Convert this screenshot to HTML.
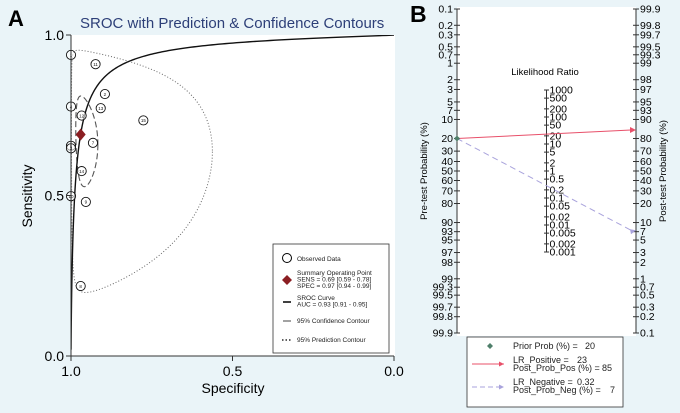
<!DOCTYPE html>
<html><head><meta charset="utf-8">
<style>
body{margin:0;background:#eaf4f8;}
svg{display:block;font-family:"Liberation Sans",Arial,sans-serif;}
</style></head>
<body>
<svg id="chart" width="680" height="413" viewBox="0 0 680 413">
<rect x="0" y="0" width="680" height="413" fill="#eaf4f8"/>
<g id="panelA">
 <text x="8" y="26" font-size="22" font-weight="bold" fill="#000">A</text>
 <text x="80" y="28" font-size="15" fill="#2d3f78">SROC with Prediction &amp; Confidence Contours</text>
 <rect x="71" y="35" width="324" height="321" fill="#fff"/>
 <clipPath id="clipA"><rect x="71" y="35" width="324" height="321"/></clipPath>
 <g id="aMarks" clip-path="url(#clipA)"></g>
 <g id="aPoints"></g>
 <g id="aAxes"></g>
 <text x="233" y="393" font-size="14" text-anchor="middle">Specificity</text>
 <text x="32" y="196" font-size="14" text-anchor="middle" transform="rotate(-90 32 196)">Sensitivity</text>
 <g font-size="6.5" fill="#222">
  <rect x="273" y="244" width="116" height="109" fill="#fff" stroke="#333" stroke-width="0.8"/>
  <circle cx="287" cy="258" r="4.5" fill="none" stroke="#000"/>
  <text x="297" y="261">Observed Data</text>
  <path d="M287 275 l5 5 l-5 5 l-5 -5z" fill="#8b1e22"/>
  <text x="297" y="275">Summary Operating Point</text>
  <text x="297" y="281.5">SENS = 0.69 [0.59 - 0.78]</text>
  <text x="297" y="288">SPEC = 0.97 [0.94 - 0.99]</text>
  <line x1="283" y1="302" x2="291" y2="302" stroke="#000" stroke-width="1.5"/>
  <text x="297" y="300">SROC Curve</text>
  <text x="297" y="306.5">AUC = 0.93 [0.91 - 0.95]</text>
  <line x1="283" y1="321" x2="291" y2="321" stroke="#444" stroke-width="1"/>
  <text x="297" y="323">95% Confidence Contour</text>
  <line x1="282" y1="340" x2="292" y2="340" stroke="#000" stroke-width="1.2" stroke-dasharray="1.5,2"/>
  <text x="297" y="342">95% Prediction Contour</text>
 </g>
</g>
<g id="panelB">
 <rect x="457" y="7" width="179" height="329" fill="#fff"/>
 <text x="410" y="22" font-size="23" font-weight="bold">B</text>
 <g id="bAxes"></g>
 <text x="545" y="75" font-size="9.5" text-anchor="middle">Likelihood Ratio</text>
 <text x="427" y="171" font-size="9.5" text-anchor="middle" transform="rotate(-90 427 171)">Pre-test Probability (%)</text>
 <text x="666" y="171" font-size="9.5" text-anchor="middle" transform="rotate(-90 666 171)">Post-test Probability (%)</text>
 <g id="bMarks"></g>
 <g font-size="9" fill="#222">
  <rect x="467" y="337" width="156" height="70" fill="#fff" stroke="#333" stroke-width="0.8"/>
  <path d="M490 343 l3 3 l-3 3 l-3 -3z" fill="#4f7f6a"/>
  <text x="513" y="349">Prior Prob (%) =</text>
  <text x="585" y="349">20</text>
  <line x1="472" y1="364" x2="504" y2="364" stroke="#e8506a" stroke-width="1"/>
  <path d="M504 364 l-5 -2.5 l0 5z" fill="#e8506a"/>
  <text x="513" y="363">LR_Positive =</text>
  <text x="577" y="363">23</text>
  <text x="513" y="371">Post_Prob_Pos (%) =</text>
  <text x="602" y="371">85</text>
  <line x1="472" y1="387" x2="504" y2="387" stroke="#a9a3dc" stroke-width="1" stroke-dasharray="5,3"/>
  <path d="M504 387 l-5 -2.5 l0 5z" fill="#a9a3dc"/>
  <text x="513" y="385">LR_Negative =</text>
  <text x="577" y="385">0.32</text>
  <text x="513" y="393">Post_Prob_Neg (%) =</text>
  <text x="610" y="393">7</text>
 </g>
</g>
</svg>
<script>
// ---------- Panel A data ----------
const studyIds = [1,11,2,4,13,12,15,7,6,3,14,10,9,8];
const studySpec = [1.0,0.924,0.895,1.0,0.908,0.967,0.776,0.932,1.0,1.0,0.967,1.0,0.954,0.970];
const studySens = [0.938,0.909,0.816,0.777,0.772,0.749,0.734,0.664,0.655,0.647,0.576,0.498,0.480,0.218];
const summarySpec = 0.97;
const summarySens = 0.69;
const srocIntercept = 3.66;
const srocSlope = 0.82;
const axisTicksA = [0, 0.5, 1.0];
const axisTickLabelsA = ["0.0","0.5","1.0"];
// contour params in logit space: centre fpr-logit, sens-logit, half-ranges, phase
const confContour = [-3.3, 0.78, 0.9, 0.67, 1.75];
const predContour = [-3.4, 0.8, 3.15, 2.2, 1.68];
// ---------- Panel B data ----------
const probTicks = [0.1,0.2,0.3,0.5,0.7,1,2,3,5,7,10,20,30,40,50,60,70,80,90,93,95,97,98,99,99.3,99.5,99.7,99.8,99.9];
const lrTicks = [1000,500,200,100,50,20,10,5,2,1,0.5,0.2,0.1,0.05,0.02,0.01,0.005,0.002,0.001];
const priorProb = 20;
const lrPositive = 23;
const lrNegative = 0.32;

const NS = "http://www.w3.org/2000/svg";
function mk(tag, attrs, parent){const e=document.createElementNS(NS,tag);for(const k in attrs)e.setAttribute(k,attrs[k]);parent.appendChild(e);return e;}
const xA = s => 71 + (1 - s) * 323;
const yA = v => 356 - v * 321;
const logit = p => Math.log(p/(1-p));
const inv = l => 1/(1+Math.exp(-l));

const aMarks = document.getElementById('aMarks');
const aPoints = document.getElementById('aPoints');
const aAxes = document.getElementById('aAxes');
function contour(c, dash, name){
  let d="";
  for(let i=0;i<=200;i++){const t=i/200*2*Math.PI;
    const fpr=inv(c[0]+c[2]*Math.cos(t)); const se=inv(c[1]+c[3]*Math.cos(t+c[4]));
    d+=(i?"L":"M")+xA(1-fpr).toFixed(2)+" "+yA(se).toFixed(2);}
  const p=mk('path',{d:d,fill:'none',stroke:name==='prediction-contour'?'#666':'#555','stroke-width':name==='prediction-contour'?1:1.1,'stroke-dasharray':dash},aMarks);
  
  
}
contour(predContour,'1,2','prediction-contour');
contour(confContour,'6,3','confidence-contour');
let d="";
for(let i=0;i<=400;i++){const fpr=Math.pow(10,-4+4*i/400);const se=inv(srocIntercept+srocSlope*logit(Math.min(fpr,0.99999)));
  d+=(i?"L":"M")+xA(1-fpr).toFixed(2)+" "+yA(se).toFixed(2);}
const curve=mk('path',{d:d,fill:'none',stroke:'#111','stroke-width':1.4},aMarks);


studyIds.forEach((id,i)=>{
  const g=mk('g',{},aPoints);
  
  
  const cx=xA(studySpec[i]), cy=yA(studySens[i]);
  mk('circle',{cx:cx,cy:cy,r:4.6,fill:'#fff','fill-opacity':0.6,stroke:'#111','stroke-width':0.9},g);
  const t=mk('text',{x:cx,y:cy+1.8,'font-size':4.5,'text-anchor':'middle',fill:'#111'},g);t.textContent=id;
});
const dm=mk('path',{d:`M${xA(summarySpec)} ${yA(summarySens)-6} l5 6 l-5 6 l-5 -6z`,fill:'#8b1e22'},aPoints);


mk('line',{x1:71,y1:35,x2:71,y2:356,stroke:'#333'},aAxes);
mk('line',{x1:71,y1:356,x2:394,y2:356,stroke:'#333'},aAxes);
axisTicksA.forEach((v,i)=>{
  mk('line',{x1:66,y1:yA(v),x2:71,y2:yA(v),stroke:'#333'},aAxes);
  const t=mk('text',{x:64,y:yA(v)+5,'font-size':14,'text-anchor':'end'},aAxes);t.textContent=axisTickLabelsA[i];
  
  
  mk('line',{x1:xA(v),y1:356,x2:xA(v),y2:361,stroke:'#333'},aAxes);
  const u=mk('text',{x:xA(v),y:376,'font-size':14,'text-anchor':'middle'},aAxes);u.textContent=axisTickLabelsA[i];
  
  
});
// ---------- Panel B ----------
const K = 162/6.9068, CY = 171, XL = 457, XR = 636, XM = 546.5;
const yPre = p => CY + logit(p/100)*K;
const yPost = p => CY - logit(p/100)*K;
const yLR = lr => CY - Math.log(lr)*K/2;
const bAxes=document.getElementById('bAxes'), bMarks=document.getElementById('bMarks');
mk('line',{x1:XL,y1:yPre(0.1),x2:XL,y2:yPre(99.9),stroke:'#333'},bAxes);
mk('line',{x1:XR,y1:yPost(99.9),x2:XR,y2:yPost(0.1),stroke:'#333'},bAxes);
mk('line',{x1:XM,y1:yLR(1000),x2:XM,y2:yLR(0.001),stroke:'#333'},bAxes);
probTicks.forEach(p=>{
  mk('line',{x1:XL-3,y1:yPre(p),x2:XL+3,y2:yPre(p),stroke:'#333'},bAxes);
  const t=mk('text',{x:XL-4,y:yPre(p)+3.5,'font-size':10.5,'text-anchor':'end'},bAxes);t.textContent=p;
  
  
  mk('line',{x1:XR-3,y1:yPost(p),x2:XR+3,y2:yPost(p),stroke:'#333'},bAxes);
  const u=mk('text',{x:XR+4,y:yPost(p)+3.5,'font-size':10.5},bAxes);u.textContent=p;
  
  
});
lrTicks.forEach(l=>{
  mk('line',{x1:XM-2.5,y1:yLR(l),x2:XM+2.5,y2:yLR(l),stroke:'#333'},bAxes);
  const t=mk('text',{x:XM+3,y:yLR(l)+3.5,'font-size':10.5},bAxes);t.textContent=l;
  
  
});
function postProb(pre, lr){const o=pre/(100-pre)*lr;return 100*o/(1+o);}
const pp=postProb(priorProb,lrPositive), pn=postProb(priorProb,lrNegative);
const lp=mk('line',{x1:XL,y1:yPre(priorProb),x2:XR-5,y2:yPost(pp),stroke:'#e8506a','stroke-width':1},bMarks);


mk('path',{d:`M${XR} ${yPost(pp)} l-6 -3 l0 6z`,fill:'#e8506a'},bMarks);
const ln=mk('line',{x1:XL,y1:yPre(priorProb),x2:XR-5,y2:yPost(pn),stroke:'#a9a3dc','stroke-width':1,'stroke-dasharray':'6,4'},bMarks);


mk('path',{d:`M${XR} ${yPost(pn)} l-6 -1 l1 5z`,fill:'#a9a3dc'},bMarks);
const pr=mk('path',{d:`M${XL} ${yPre(priorProb)-3} l3 3 l-3 3 l-3 -3z`,fill:'#4f7f6a'},bMarks);


</script>
</body></html>
